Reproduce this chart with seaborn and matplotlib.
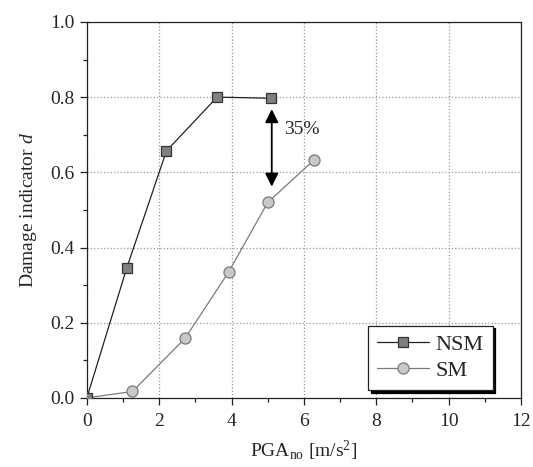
import matplotlib
matplotlib.use("Agg")
import matplotlib.pyplot as plt
import seaborn as sns
import pandas as pd
from matplotlib.ticker import MultipleLocator

nsm_x = [0.0, 1.10, 2.20, 3.60, 5.10]
nsm_y = [0.0, 0.345, 0.657, 0.800, 0.797]
sm_x = [0.0, 1.26, 2.71, 3.92, 5.00, 6.28]
sm_y = [0.0, 0.017, 0.158, 0.335, 0.520, 0.633]
x_ticks = [0, 2, 4, 6, 8, 10, 12]
y_ticks = [0.0, 0.2, 0.4, 0.6, 0.8, 1.0]
annot_text = "35%"

sns.set_style("ticks")
FONT = 'Liberation Serif'
plt.rcParams['font.family'] = 'serif'
plt.rcParams['font.serif'] = [FONT, 'DejaVu Serif']
plt.rcParams['mathtext.fontset'] = 'custom'
plt.rcParams['mathtext.rm'] = FONT
plt.rcParams['mathtext.it'] = FONT + ':italic'

df_nsm = pd.DataFrame({"x": nsm_x, "y": nsm_y})
df_sm = pd.DataFrame({"x": sm_x, "y": sm_y})

fig = plt.figure(figsize=(5.33, 4.67), dpi=100)
ax = fig.add_axes([0.163, 0.148, 0.8145, 0.805])

sns.lineplot(data=df_nsm, x="x", y="y", ax=ax, color="#222222", lw=0.9,
             marker="s", markersize=7.5, markerfacecolor="#808080",
             markeredgecolor="#333333", markeredgewidth=0.9, label="NSM",
             sort=False, zorder=4)
sns.lineplot(data=df_sm, x="x", y="y", ax=ax, color="#7a7a7a", lw=0.9,
             marker="o", markersize=8, markerfacecolor="#c8c8c8",
             markeredgecolor="#7a7a7a", markeredgewidth=0.9, label="SM",
             sort=False, zorder=3)

ax.set_xlim(0, 12)
ax.set_ylim(0, 1.0)
ax.set_xticks(x_ticks)
ax.set_yticks(y_ticks)
ax.set_xticklabels([str(t) for t in x_ticks], fontfamily=FONT)
ax.set_yticklabels([f"{t:.1f}" for t in y_ticks], fontfamily=FONT)
ax.xaxis.set_minor_locator(MultipleLocator(1))
ax.yaxis.set_minor_locator(MultipleLocator(0.1))
ax.tick_params(axis='x', which='major', pad=6)
ax.tick_params(axis='y', which='major', pad=4)
ax.tick_params(axis='both', which='major', direction='out', length=5,
               width=0.9, labelsize=14, color='#222222')
ax.tick_params(axis='both', which='minor', direction='out', length=3,
               width=0.9, color='#222222')
ax.grid(True, which='major', color='#999999', linestyle=':', linewidth=0.9)
for s in ax.spines.values():
    s.set_visible(True)
    s.set_color('#222222')
    s.set_linewidth(0.9)

ax.set_xlabel(r"PGA$_{\mathrm{no}}$ [m/s$^{2}$]", fontsize=14, labelpad=6,
              fontfamily=FONT)
ax.set_ylabel(r"Damage indicator $d$", fontsize=14, labelpad=8,
              fontfamily=FONT)

ax.annotate("", xy=(5.11, 0.562), xytext=(5.11, 0.768),
            arrowprops=dict(arrowstyle="<|-|>", color="black", lw=1.3,
                            mutation_scale=20, shrinkA=0, shrinkB=0))
ax.text(5.45, 0.715, annot_text, fontsize=14, ha='left', va='center',
        fontfamily=FONT)

leg = ax.legend(loc='lower left', bbox_to_anchor=(0.647, 0.021),
                prop={'family': FONT, 'size': 16}, frameon=True, fancybox=False,
                shadow={'color': 'black', 'alpha': 1.0},
                edgecolor='#222222', framealpha=1, borderpad=0.4,
                handlelength=2.35, handletextpad=0.3, labelspacing=0.25,
                borderaxespad=0)
leg.get_frame().set_linewidth(0.9)

fig.savefig("out.png", dpi=100)
